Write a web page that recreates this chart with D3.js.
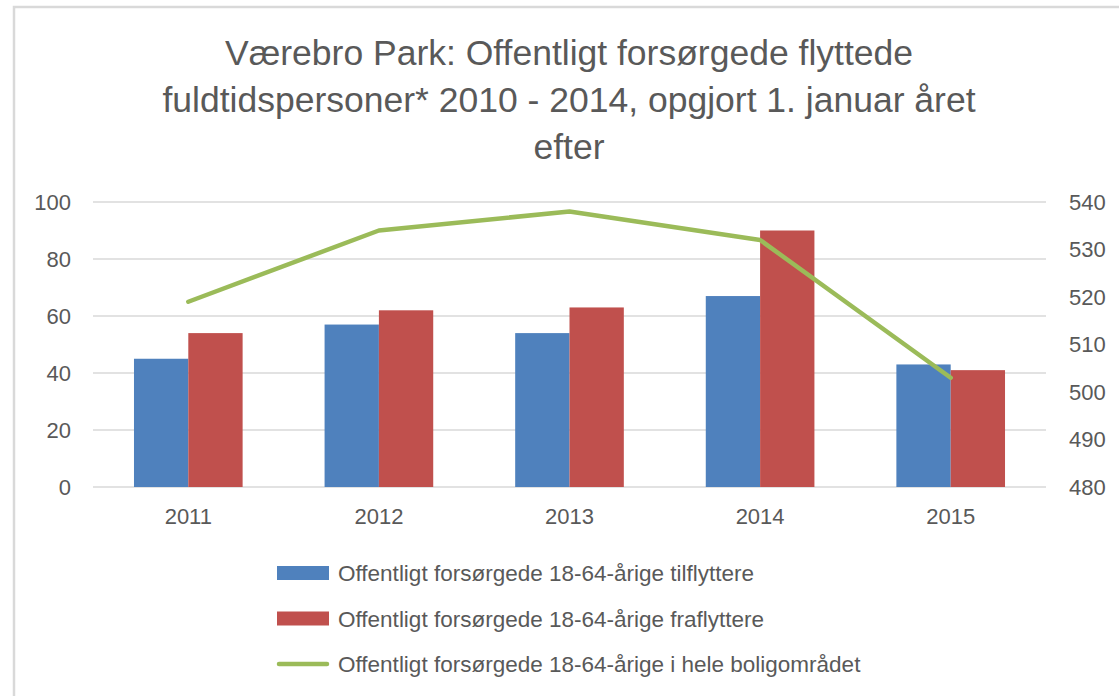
<!DOCTYPE html>
<html>
<head>
<meta charset="utf-8">
<script src="https://cdn.jsdelivr.net/npm/d3@7"></script>
<style>
    body { margin: 0; background: #fff; }
    text { font-family: "Liberation Sans", Arial, sans-serif; fill: #595959; }
</style>
</head>
<body>
<div id="chart"></div>
<script>
(function() {
    var years = ["2011", "2012", "2013", "2014", "2015"];
    var tilflyttere = [45, 57, 54, 67, 43];
    var fraflyttere = [54, 62, 63, 90, 41];
    var heleOmraadet = [519, 534, 538, 532, 503];
    var leftTicks = [0, 20, 40, 60, 80, 100];
    var rightTicks = [480, 490, 500, 510, 520, 530, 540];
    var titleLines = [
        "Værebro Park: Offentligt forsørgede flyttede",
        "fuldtidspersoner* 2010 - 2014, opgjort 1. januar året",
        "efter"
    ];
    var seriesNames = [
        "Offentligt forsørgede 18-64-årige tilflyttere",
        "Offentligt forsørgede 18-64-årige fraflyttere",
        "Offentligt forsørgede 18-64-årige i hele boligområdet"
    ];

    var svgWidth = 1119, svgHeight = 696;
    var margin = {top: 202, left: 93, right: 1046, bottom: 487};

    var svg = d3.select("#chart")
        .append("svg")
        .attr("width", svgWidth)
        .attr("height", svgHeight);

    // outer chart border (only top and left visible)
    svg.append("rect")
        .attr("x", 14)
        .attr("y", 7)
        .attr("width", 1200)
        .attr("height", 800)
        .attr("fill", "none")
        .attr("stroke", "#d9d9d9")
        .attr("stroke-width", 2.5);

    svg.append("g")
        .selectAll("text")
        .data(titleLines)
        .enter().append("text")
        .attr("x", 569)
        .attr("y", (d, i) => 65 + i * 47)
        .attr("text-anchor", "middle")
        .style("font-size", "35.5px")
        .text(d => d);

    var x = d3.scaleBand().domain(years).range([margin.left, margin.right]);
    var y = d3.scaleLinear().domain([0, 100]).range([margin.bottom, margin.top]);
    var y2 = d3.scaleLinear().domain([480, 540]).range([margin.bottom, margin.top]);
    var barW = x.bandwidth() * 0.285;

    // gridlines
    svg.append("g")
        .selectAll("line")
        .data(leftTicks)
        .enter().append("line")
        .attr("x1", margin.left)
        .attr("x2", margin.right)
        .attr("y1", d => y(d))
        .attr("y2", d => y(d))
        .attr("stroke", "#d9d9d9")
        .attr("stroke-width", 1.5);

    // left axis
    var leftAxis = svg.append("g")
        .attr("transform", "translate(71,0)")
        .call(d3.axisLeft(y).tickValues(leftTicks).tickSize(0).tickPadding(0));
    leftAxis.select(".domain").remove();
    leftAxis.selectAll("text").style("font-size", "22px").attr("fill", "#595959");

    // right axis
    var rightAxis = svg.append("g")
        .attr("transform", "translate(1069,0)")
        .call(d3.axisRight(y2).tickValues(rightTicks).tickSize(0).tickPadding(0));
    rightAxis.select(".domain").remove();
    rightAxis.selectAll("text").style("font-size", "22px").attr("fill", "#595959");

    // bottom axis
    var bottomAxis = svg.append("g")
        .attr("transform", "translate(0," + (margin.bottom + 21) + ")")
        .call(d3.axisBottom(x).tickSize(0).tickPadding(0));
    bottomAxis.select(".domain").remove();
    bottomAxis.selectAll("text").style("font-size", "22px").attr("fill", "#595959");

    var colors = ["#4f81bd", "#c0504d", "#9bbb59"];

    svg.append("g")
        .selectAll("rect")
        .data(tilflyttere)
        .enter().append("rect")
        .attr("x", (d, i) => x(years[i]) + x.bandwidth() / 2 - barW)
        .attr("y", d => y(d))
        .attr("width", barW)
        .attr("height", d => y(0) - y(d))
        .attr("fill", colors[0]);

    svg.append("g")
        .selectAll("rect")
        .data(fraflyttere)
        .enter().append("rect")
        .attr("x", (d, i) => x(years[i]) + x.bandwidth() / 2)
        .attr("y", d => y(d))
        .attr("width", barW)
        .attr("height", d => y(0) - y(d))
        .attr("fill", colors[1]);

    var line = d3.line()
        .x((d, i) => x(years[i]) + x.bandwidth() / 2)
        .y(d => y2(d));

    svg.append("path")
        .datum(heleOmraadet)
        .attr("d", line)
        .attr("fill", "none")
        .attr("stroke", colors[2])
        .attr("stroke-width", 4.5)
        .attr("stroke-linecap", "round")
        .attr("stroke-linejoin", "round");

    // legend
    var legend = svg.append("g")
        .selectAll("g")
        .data(seriesNames)
        .enter().append("g")
        .attr("transform", (d, i) => "translate(277," + (573 + i * 45.5) + ")");

    legend.each(function(d, i) {
        var g = d3.select(this);
        if (i < 2) {
            g.append("rect")
                .attr("x", 0)
                .attr("y", -7)
                .attr("width", 52)
                .attr("height", 14)
                .attr("fill", colors[i]);
        } else {
            g.append("line")
                .attr("x1", 2)
                .attr("x2", 50)
                .attr("y1", 0)
                .attr("y2", 0)
                .attr("stroke", colors[2])
                .attr("stroke-width", 4.5)
                .attr("stroke-linecap", "round");
        }
        g.append("text")
            .attr("x", 61)
            .attr("y", 8)
            .style("font-size", "22.5px")
            .text(d);
    });
})();
</script>
</body>
</html>
